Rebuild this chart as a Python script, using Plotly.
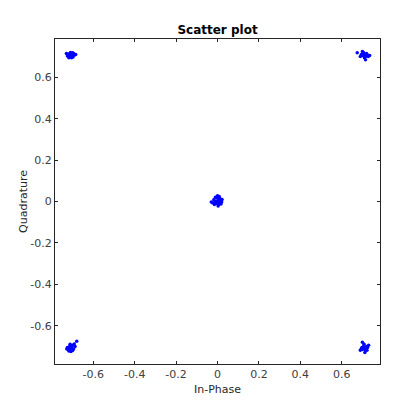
import plotly.graph_objects as go

# received symbols, in-phase / quadrature
in_phase = [
    0.002, -0.008, 0.010, 0.004, -0.003, 0.015, -0.012, 0.006, -0.005, 0.012,
    -0.018, 0.020, -0.025, 0.003, 0.008, -0.010, 0.017, -0.015, 0.000, -0.030, 0.022,
    -0.710, -0.700, -0.715, -0.695, -0.720, -0.705, -0.690, -0.725, -0.710, -0.700,
    -0.718, -0.685, -0.730, -0.708, -0.698,
    0.710, 0.700, 0.715, 0.720, 0.705, 0.725, 0.695, 0.710, 0.735, 0.675,
    0.715, 0.700, 0.728, 0.708, 0.690,
    -0.710, -0.720, -0.700, -0.715, -0.725, -0.705, -0.695, -0.718, -0.700, -0.688,
    -0.728, -0.708, -0.680, -0.692, -0.712,
    0.710, 0.720, 0.700, 0.715, 0.725, 0.705, 0.695, 0.730, 0.712, 0.700,
    0.690, 0.718, 0.708, 0.722, 0.698,
]
quadrature = [
    0.003, 0.001, -0.004, 0.012, -0.010, 0.006, -0.004, -0.015, 0.018, 0.015,
    0.008, -0.002, -0.006, -0.022, 0.024, 0.020, -0.012, -0.014, 0.028, -0.003, 0.010,
    0.710, 0.705, 0.700, 0.715, 0.712, 0.695, 0.708, 0.703, 0.720, 0.718,
    0.694, 0.710, 0.715, 0.700, 0.698,
    0.710, 0.705, 0.700, 0.715, 0.720, 0.708, 0.710, 0.695, 0.705, 0.718,
    0.685, 0.725, 0.700, 0.703, 0.700,
    -0.710, -0.715, -0.720, -0.700, -0.705, -0.705, -0.712, -0.722, -0.695, -0.700,
    -0.712, -0.725, -0.675, -0.688, -0.690,
    -0.710, -0.700, -0.715, -0.720, -0.705, -0.700, -0.710, -0.695, -0.730, -0.680,
    -0.718, -0.712, -0.690, -0.718, -0.705,
]
tick_vals = [-0.6, -0.4, -0.2, 0, 0.2, 0.4, 0.6]
tick_text = ["-0.6", "-0.4", "-0.2", "0", "0.2", "0.4", "0.6"]

fig = go.Figure(go.Scatter(
    x=in_phase, y=quadrature, mode="markers",
    marker=dict(color="#0000ff", size=3.5),
))

axis_style = dict(
    range=[-0.785, 0.785], tickvals=tick_vals, ticktext=tick_text,
    showgrid=False, zeroline=False, showline=True, mirror="ticks",
    linecolor="#262626", linewidth=1, ticks="inside", ticklen=3,
    tickcolor="#262626", tickfont=dict(size=11, color="#404040"),
    automargin=False,
)

# page body adds 8px around the figure, so the figure is 404 px
fig.update_layout(
    width=404, height=404,
    margin=dict(l=47, r=32, t=31, b=48),
    paper_bgcolor="white", plot_bgcolor="white",
    font=dict(family="DejaVu Sans", color="#262626"),
    title=dict(text="<b>Scatter plot</b>", x=0.5, xanchor="center",
               xref="paper", yref="container", y=1 - 22 / 404, yanchor="middle",
               font=dict(size=12, color="black")),
    showlegend=False,
)
fig.update_xaxes(**axis_style, title=dict(text="In-Phase", font=dict(size=11), standoff=5))
fig.update_yaxes(**axis_style, title=dict(text="Quadrature", font=dict(size=11), standoff=0))

fig.write_html("out.html")
